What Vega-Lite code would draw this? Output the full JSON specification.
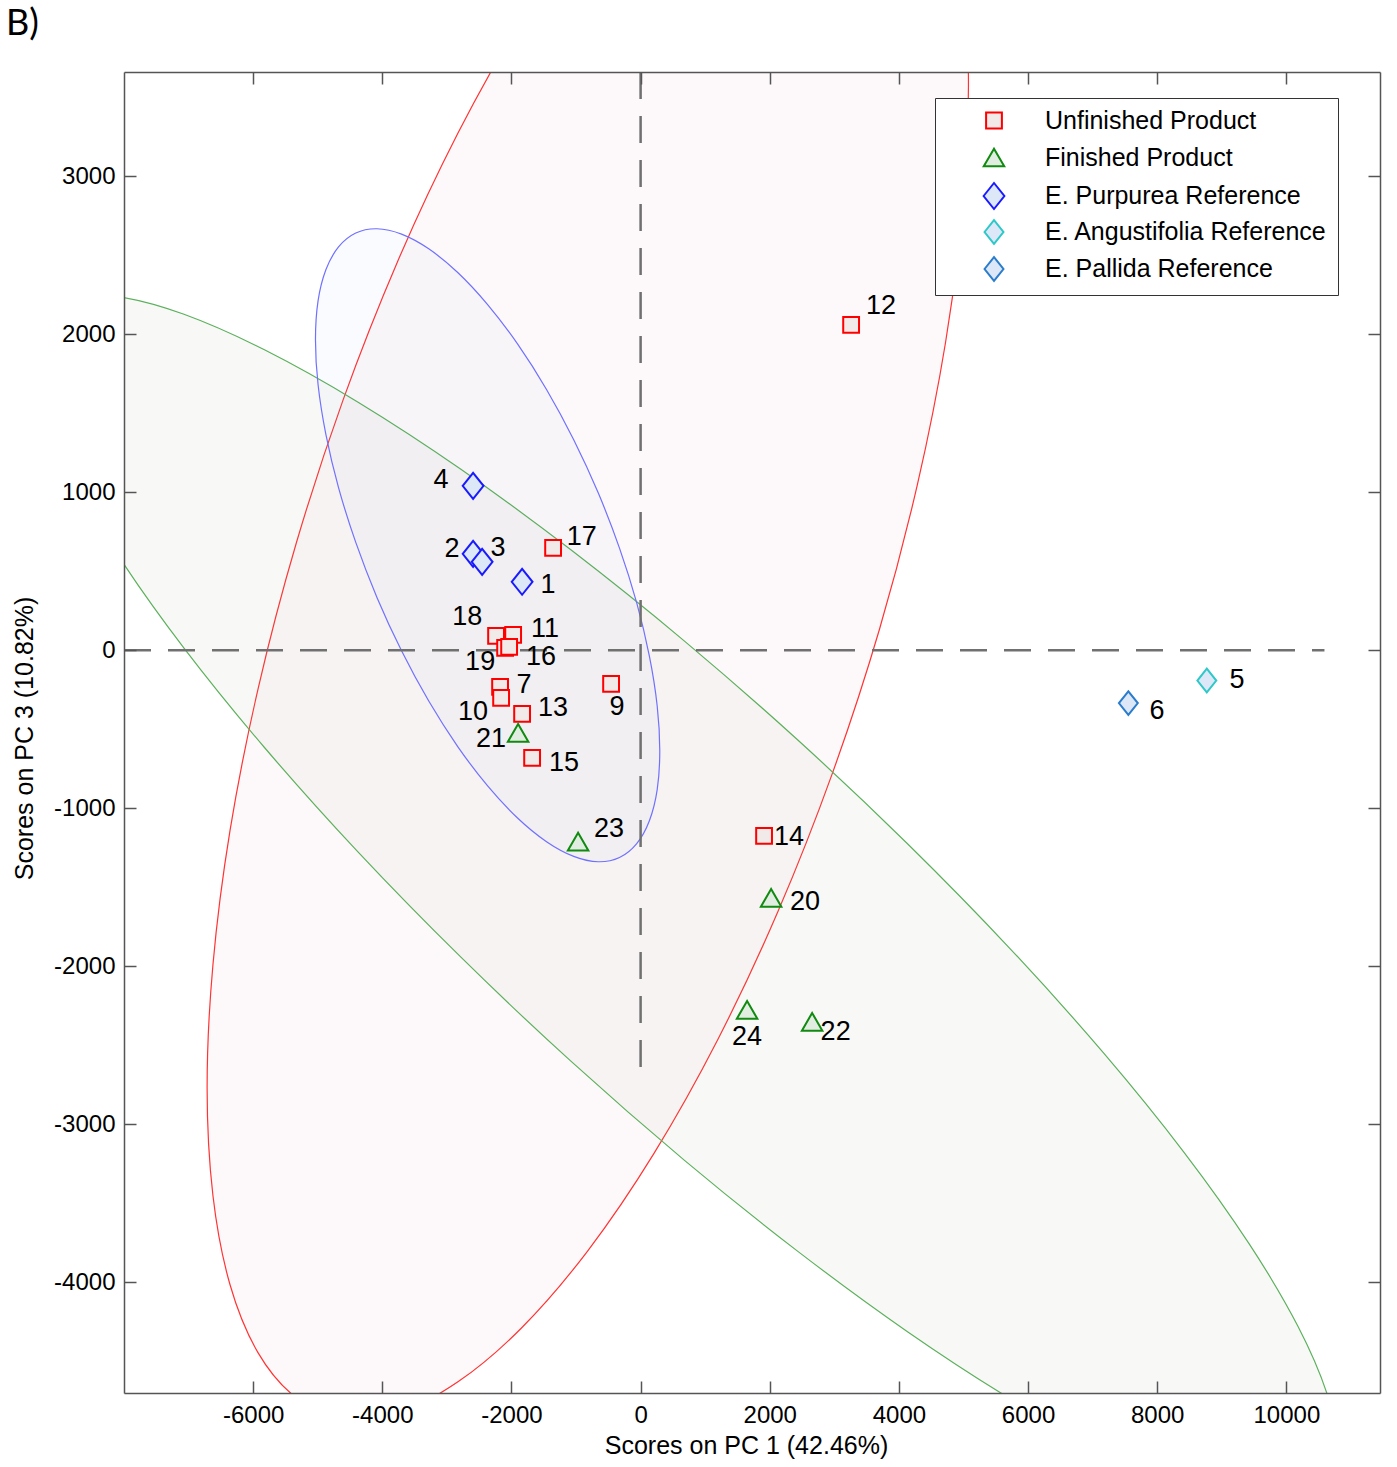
{
  "$schema": "https://vega.github.io/schema/vega-lite/v6.json",
  "width": 1256,
  "height": 1321,
  "autosize": {"type": "none"},
  "padding": {"left": 124, "top": 72, "right": 17, "bottom": 74},
  "background": "white",
  "title": {"text": "B)", "anchor": "start", "frame": "group", "font": "Lato", "fontSize": 36, "fontWeight": "normal", "color": "black", "dx": -118, "dy": 34, "offset": 34, "baseline": "alphabetic"},
  "config": {"view": {"stroke": null}},
  "resolve": {"axis": {"x": "independent", "y": "independent"}},
  "datasets": {
    "red_ell": [{"i":0,"x":5077,"y":3577},{"i":1,"x":4987,"y":2799},{"i":2,"x":4722,"y":1948},{"i":3,"x":4287,"y":1050},{"i":4,"x":3698,"y":132},{"i":5,"x":2971,"y":-777},{"i":6,"x":2130,"y":-1650},{"i":7,"x":1198,"y":-2461},{"i":8,"x":205,"y":-3185},{"i":9,"x":-818,"y":-3800},{"i":10,"x":-1841,"y":-4287},{"i":11,"x":-2834,"y":-4631},{"i":12,"x":-3766,"y":-4823},{"i":13,"x":-4607,"y":-4856},{"i":14,"x":-5334,"y":-4729},{"i":15,"x":-5923,"y":-4446},{"i":16,"x":-6358,"y":-4015},{"i":17,"x":-6623,"y":-3450},{"i":18,"x":-6713,"y":-2769},{"i":19,"x":-6623,"y":-1991},{"i":20,"x":-6358,"y":-1140},{"i":21,"x":-5923,"y":-242},{"i":22,"x":-5334,"y":676},{"i":23,"x":-4607,"y":1585},{"i":24,"x":-3766,"y":2458},{"i":25,"x":-2834,"y":3269},{"i":26,"x":-1841,"y":3993},{"i":27,"x":-818,"y":4608},{"i":28,"x":205,"y":5095},{"i":29,"x":1198,"y":5439},{"i":30,"x":2130,"y":5631},{"i":31,"x":2971,"y":5664},{"i":32,"x":3698,"y":5537},{"i":33,"x":4287,"y":5253},{"i":34,"x":4722,"y":4823},{"i":35,"x":4987,"y":4258}],
    "green_ell": [{"i":0,"x":10787,"y":-5047},{"i":1,"x":10633,"y":-5280},{"i":2,"x":10177,"y":-5400},{"i":3,"x":9432,"y":-5404},{"i":4,"x":8421,"y":-5293},{"i":5,"x":7175,"y":-5068},{"i":6,"x":5731,"y":-4738},{"i":7,"x":4133,"y":-4312},{"i":8,"x":2430,"y":-3802},{"i":9,"x":675,"y":-3226},{"i":10,"x":-1080,"y":-2600},{"i":11,"x":-2783,"y":-1942},{"i":12,"x":-4381,"y":-1274},{"i":13,"x":-5825,"y":-615},{"i":14,"x":-7071,"y":14},{"i":15,"x":-8082,"y":595},{"i":16,"x":-8827,"y":1110},{"i":17,"x":-9283,"y":1543},{"i":18,"x":-9437,"y":1881},{"i":19,"x":-9283,"y":2114},{"i":20,"x":-8827,"y":2234},{"i":21,"x":-8082,"y":2238},{"i":22,"x":-7071,"y":2127},{"i":23,"x":-5825,"y":1902},{"i":24,"x":-4381,"y":1572},{"i":25,"x":-2783,"y":1146},{"i":26,"x":-1080,"y":636},{"i":27,"x":675,"y":60},{"i":28,"x":2430,"y":-566},{"i":29,"x":4133,"y":-1224},{"i":30,"x":5731,"y":-1892},{"i":31,"x":7175,"y":-2551},{"i":32,"x":8421,"y":-3180},{"i":33,"x":9432,"y":-3761},{"i":34,"x":10177,"y":-4276},{"i":35,"x":10633,"y":-4709}],
    "blue_ell": [{"i":0,"x":297,"y":-636},{"i":1,"x":257,"y":-881},{"i":2,"x":136,"y":-1078},{"i":3,"x":-60,"y":-1223},{"i":4,"x":-327,"y":-1311},{"i":5,"x":-655,"y":-1338},{"i":6,"x":-1036,"y":-1304},{"i":7,"x":-1457,"y":-1211},{"i":8,"x":-1906,"y":-1061},{"i":9,"x":-2369,"y":-858},{"i":10,"x":-2832,"y":-609},{"i":11,"x":-3281,"y":-321},{"i":12,"x":-3702,"y":-3},{"i":13,"x":-4083,"y":335},{"i":14,"x":-4411,"y":683},{"i":15,"x":-4678,"y":1030},{"i":16,"x":-4874,"y":1367},{"i":17,"x":-4995,"y":1682},{"i":18,"x":-5035,"y":1966},{"i":19,"x":-4995,"y":2211},{"i":20,"x":-4874,"y":2408},{"i":21,"x":-4678,"y":2553},{"i":22,"x":-4411,"y":2641},{"i":23,"x":-4083,"y":2668},{"i":24,"x":-3702,"y":2634},{"i":25,"x":-3281,"y":2541},{"i":26,"x":-2832,"y":2391},{"i":27,"x":-2369,"y":2188},{"i":28,"x":-1906,"y":1939},{"i":29,"x":-1457,"y":1651},{"i":30,"x":-1036,"y":1333},{"i":31,"x":-655,"y":995},{"i":32,"x":-327,"y":647},{"i":33,"x":-60,"y":300},{"i":34,"x":136,"y":-37},{"i":35,"x":257,"y":-352}],
    "vline": [{"x":0,"y":3660,"y2":-2674}],
    "hline": [{"y":0,"x":-8000,"x2":10590}],
    "points": [
      {"id":"12","group":"Unfinished Product","x":3260,"y":2060,"lx":3722,"ly":2180},
      {"id":"17","group":"Unfinished Product","x":-1355,"y":649,"lx":-913,"ly":718},
      {"id":"18","group":"Unfinished Product","x":-2238,"y":92,"lx":-2686,"ly":212},
      {"id":"11","group":"Unfinished Product","x":-1974,"y":98,"lx":-1479,"ly":136},
      {"id":"19","group":"Unfinished Product","x":-2098,"y":16,"lx":-2485,"ly":-73},
      {"id":"16","group":"Unfinished Product","x":-2036,"y":22,"lx":-1541,"ly":-41},
      {"id":"7","group":"Unfinished Product","x":-2176,"y":-231,"lx":-1804,"ly":-218},
      {"id":"10","group":"Unfinished Product","x":-2160,"y":-301,"lx":-2594,"ly":-389},
      {"id":"13","group":"Unfinished Product","x":-1835,"y":-402,"lx":-1355,"ly":-364},
      {"id":"9","group":"Unfinished Product","x":-457,"y":-212,"lx":-364,"ly":-358},
      {"id":"15","group":"Unfinished Product","x":-1680,"y":-680,"lx":-1185,"ly":-712},
      {"id":"14","group":"Unfinished Product","x":1912,"y":-1174,"lx":2299,"ly":-1180},
      {"id":"21","group":"Finished Product","x":-1897,"y":-522,"lx":-2315,"ly":-560},
      {"id":"23","group":"Finished Product","x":-968,"y":-1211,"lx":-488,"ly":-1130},
      {"id":"20","group":"Finished Product","x":2021,"y":-1566,"lx":2547,"ly":-1591},
      {"id":"24","group":"Finished Product","x":1649,"y":-2275,"lx":1649,"ly":-2446},
      {"id":"22","group":"Finished Product","x":2656,"y":-2351,"lx":3020,"ly":-2415},
      {"id":"4","group":"E. Purpurea Reference","x":-2594,"y":1041,"lx":-3089,"ly":1079},
      {"id":"2","group":"E. Purpurea Reference","x":-2594,"y":611,"lx":-2919,"ly":642},
      {"id":"3","group":"E. Purpurea Reference","x":-2454,"y":560,"lx":-2207,"ly":649},
      {"id":"1","group":"E. Purpurea Reference","x":-1835,"y":434,"lx":-1432,"ly":415},
      {"id":"5","group":"E. Angustifolia Reference","x":8768,"y":-191,"lx":9237,"ly":-187},
      {"id":"6","group":"E. Pallida Reference","x":7553,"y":-334,"lx":7998,"ly":-381}
    ]
  },
  "layer": [
    {
      "data": {"name": "red_ell"},
      "mark": {"type": "line", "interpolate": "cardinal-closed", "clip": true, "fill": "#d07090", "fillOpacity": 0.045, "stroke": "#ff3333", "strokeWidth": 1.2},
      "encoding": {
        "x": {"field": "x", "type": "quantitative", "scale": {"domain": [-8000, 11450], "nice": false, "zero": false},
          "axis": {"orient": "bottom", "values": [-6000,-4000,-2000,0,2000,4000,6000,8000,10000], "ticks": false, "labelExpr": "'' + datum.value", "labelPadding": 10, "labelFontSize": 24, "labelFont": "Liberation Sans", "labelColor": "black", "title": "Scores on PC 1 (42.46%)", "titleFont": "Liberation Sans", "titleFontSize": 25, "titleFontWeight": "normal", "titleColor": "black", "titleX": 622, "titleY": 60, "titleBaseline": "alphabetic", "domain": true, "domainColor": "#555", "domainWidth": 1.5, "grid": false, "zindex": 1}},
        "y": {"field": "y", "type": "quantitative", "scale": {"domain": [-4700, 3660], "nice": false, "zero": false},
          "axis": {"orient": "left", "values": [-4000,-3000,-2000,-1000,0,1000,2000,3000], "ticks": false, "labelExpr": "'' + datum.value", "labelPadding": 9, "labelFontSize": 24, "labelFont": "Liberation Sans", "labelColor": "black", "title": "Scores on PC 3 (10.82%)", "titleFont": "Liberation Sans", "titleFontSize": 25, "titleFontWeight": "normal", "titleColor": "black", "titleX": -92, "titleY": 666, "titleAngle": 270, "titleBaseline": "alphabetic", "domain": true, "domainColor": "#555", "domainWidth": 1.5, "grid": false, "zindex": 1}},
        "order": {"field": "i", "type": "quantitative"}
      }
    },
    {
      "data": {"name": "green_ell"},
      "mark": {"type": "line", "interpolate": "cardinal-closed", "clip": true, "fill": "#90a888", "fillOpacity": 0.065, "stroke": "#5cb05c", "strokeWidth": 1.2},
      "encoding": {
        "x": {"field": "x", "type": "quantitative", "scale": {"domain": [-8000, 11450], "nice": false, "zero": false},
          "axis": {"orient": "top", "values": [-6000,-4000,-2000,0,2000,4000,6000,8000,10000], "labels": false, "title": null, "tickSize": -12, "tickColor": "#555", "tickWidth": 1.5, "domain": true, "domainColor": "#555", "domainWidth": 1.5, "grid": false, "zindex": 1}},
        "y": {"field": "y", "type": "quantitative", "scale": {"domain": [-4700, 3660], "nice": false, "zero": false},
          "axis": {"orient": "right", "values": [-4000,-3000,-2000,-1000,0,1000,2000,3000], "labels": false, "title": null, "tickSize": -12, "tickColor": "#555", "tickWidth": 1.5, "domain": true, "domainColor": "#555", "domainWidth": 1.5, "grid": false, "zindex": 1}},
        "order": {"field": "i", "type": "quantitative"}
      }
    },
    {
      "data": {"name": "blue_ell"},
      "mark": {"type": "line", "interpolate": "cardinal-closed", "clip": true, "fill": "#7080e0", "fillOpacity": 0.035, "stroke": "#7070ff", "strokeWidth": 1.2},
      "encoding": {
        "x": {"field": "x", "type": "quantitative", "scale": {"domain": [-8000, 11450], "nice": false, "zero": false},
          "axis": {"orient": "bottom", "values": [-6000,-4000,-2000,0,2000,4000,6000,8000,10000], "labels": false, "title": null, "tickSize": -12, "tickColor": "#555", "tickWidth": 1.5, "domain": false, "grid": false, "zindex": 1}},
        "y": {"field": "y", "type": "quantitative", "scale": {"domain": [-4700, 3660], "nice": false, "zero": false},
          "axis": {"orient": "left", "values": [-4000,-3000,-2000,-1000,0,1000,2000,3000], "labels": false, "title": null, "tickSize": -12, "tickColor": "#555", "tickWidth": 1.5, "domain": false, "grid": false, "zindex": 1}},
        "order": {"field": "i", "type": "quantitative"}
      }
    },
    {
      "data": {"name": "vline"},
      "mark": {"type": "rule", "stroke": "#707070", "strokeWidth": 2.5, "strokeDash": [27, 17], "clip": true},
      "encoding": {
        "x": {"field": "x", "type": "quantitative", "scale": {"domain": [-8000, 11450], "nice": false, "zero": false}, "axis": null},
        "y": {"field": "y", "type": "quantitative", "scale": {"domain": [-4700, 3660], "nice": false, "zero": false}, "axis": null},
        "y2": {"field": "y2"}
      }
    },
    {
      "data": {"name": "hline"},
      "mark": {"type": "rule", "stroke": "#707070", "strokeWidth": 2.5, "strokeDash": [27, 17], "clip": true},
      "encoding": {
        "x": {"field": "x", "type": "quantitative", "scale": {"domain": [-8000, 11450], "nice": false, "zero": false}, "axis": null},
        "x2": {"field": "x2"},
        "y": {"field": "y", "type": "quantitative", "scale": {"domain": [-4700, 3660], "nice": false, "zero": false}, "axis": null}
      }
    },
    {
      "data": {"name": "points"},
      "mark": {"type": "point", "filled": true, "opacity": 1, "strokeWidth": 2},
      "encoding": {
        "x": {"field": "x", "type": "quantitative", "scale": {"domain": [-8000, 11450], "nice": false, "zero": false}, "axis": null},
        "y": {"field": "y", "type": "quantitative", "scale": {"domain": [-4700, 3660], "nice": false, "zero": false}, "axis": null},
        "shape": {"field": "group", "type": "nominal",
          "scale": {"domain": ["Unfinished Product", "Finished Product", "E. Purpurea Reference", "E. Angustifolia Reference", "E. Pallida Reference"],
            "range": ["square", "triangle-up", "M-0.8,0L0,-1L0.8,0L0,1Z", "M-0.8,0L0,-1L0.8,0L0,1Z", "M-0.8,0L0,-1L0.8,0L0,1Z"]},
          "legend": {"orient": "none", "legendX": 811, "legendY": 26, "title": null, "labelFont": "Liberation Sans", "labelFontSize": 25, "labelColor": "black", "labelLimit": 500, "padding": 10, "rowPadding": 3, "gridAlign": "all", "symbolOffset": 35, "labelOffset": 37, "strokeColor": "#333", "fillColor": "white", "symbolStrokeWidth": 2, "symbolOpacity": 1}},
        "stroke": {"field": "group", "type": "nominal",
          "scale": {"domain": ["Unfinished Product", "Finished Product", "E. Purpurea Reference", "E. Angustifolia Reference", "E. Pallida Reference"],
            "range": ["#ff0000", "#108a10", "#1a1aff", "#2ec8c8", "#2a7ccc"]}},
        "fill": {"field": "group", "type": "nominal",
          "scale": {"domain": ["Unfinished Product", "Finished Product", "E. Purpurea Reference", "E. Angustifolia Reference", "E. Pallida Reference"],
            "range": ["#f2e9e9", "#e2ede2", "#dce8f8", "#dce8f8", "#dce8f8"]}},
        "size": {"field": "group", "type": "nominal",
          "scale": {"type": "ordinal", "domain": ["Unfinished Product", "Finished Product", "E. Purpurea Reference", "E. Angustifolia Reference", "E. Pallida Reference"],
            "range": [250, 420, 676, 560, 560]}}
      }
    },
    {
      "data": {"name": "points"},
      "mark": {"type": "text", "font": "Liberation Sans", "fontSize": 27, "color": "black", "align": "center", "baseline": "middle"},
      "encoding": {
        "x": {"field": "lx", "type": "quantitative", "scale": {"domain": [-8000, 11450], "nice": false, "zero": false}, "axis": null},
        "y": {"field": "ly", "type": "quantitative", "scale": {"domain": [-4700, 3660], "nice": false, "zero": false}, "axis": null},
        "text": {"field": "id", "type": "nominal"}
      }
    }
  ]
}
